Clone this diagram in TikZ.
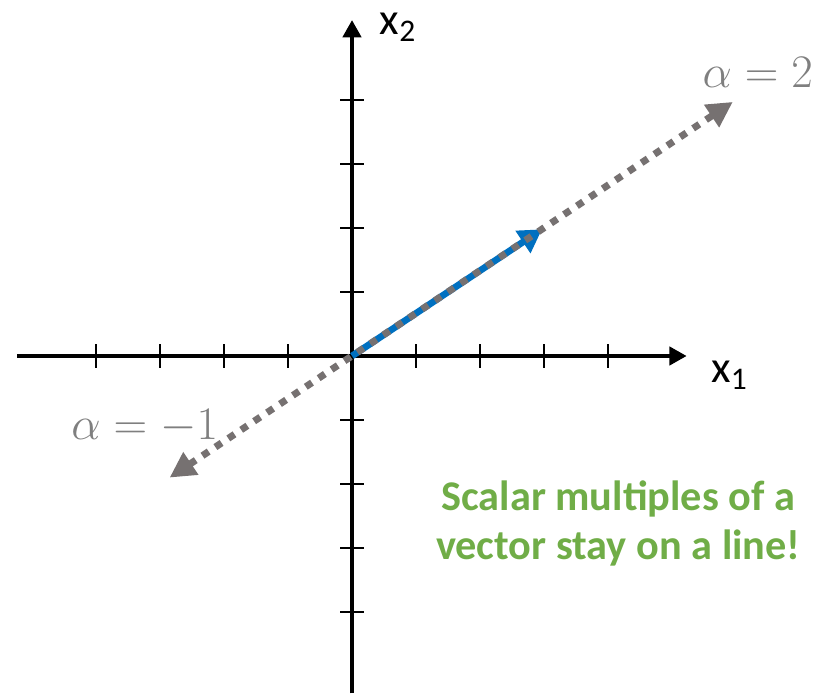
\documentclass[tikz,border=0pt]{standalone}
\usepackage{fontspec}
\newfontfamily\calibri{Carlito}
\usetikzlibrary{arrows.meta}
\definecolor{vecblue}{HTML}{0070C0}
\definecolor{linegray}{HTML}{767171}
\definecolor{labelgray}{HTML}{7F7F7F}
\definecolor{notegreen}{HTML}{70AD47}
\begin{document}
\begin{tikzpicture}[x=1cm, y=1cm,
    axis/.style={line width=2.2pt, -{Triangle[length=0.27cm, width=0.28cm]}},
    tickmark/.style={line width=0.9pt},
    vector/.style={vecblue, line width=3pt, -{Triangle[length=0.36cm, width=0.4cm]}},
    multiple/.style={linegray, line width=3.1pt, dash pattern=on 3.3pt off 3.6pt,
        {Triangle[length=0.4cm, width=0.4cm]}-{Triangle[length=0.4cm, width=0.4cm]}},
    axislabel/.style={font=\calibri\fontsize{20}{24}\selectfont},
    alphalabel/.style={labelgray, font=\fontsize{22}{26}\selectfont},
    note/.style={notegreen, align=center, font=\calibri\bfseries\fontsize{18.8}{22}\selectfont}]
    \useasboundingbox (-5.5,-5.281) rectangle (7.406,5.5625);
    % axes
    \coordinate (O) at (0,0);
    \coordinate (xstart) at (-5.23,0);
    \coordinate (xend) at (5.23,0);
    \coordinate (ystart) at (0,-5.27);
    \coordinate (yend) at (0,5.25);
    \draw[axis] (xstart) -- (xend);
    \draw[axis] (ystart) -- (yend);
    % ticks
    \foreach \i in {-4,...,-1,1,2,3,4} {
        \draw[tickmark] (\i,-0.18) -- (\i,0.18);
        \draw[tickmark] (-0.18,\i) -- (0.18,\i);
    }
    \node[axislabel] (xone) at (5.9,-0.3) {x\textsubscript{1}};
    \node[axislabel] (xtwo) at (0.72,5.13) {x\textsubscript{2}};
    % vector and its multiples
    \coordinate (v) at (2.97,1.98);
    \coordinate (twov) at (5.95,3.97);
    \coordinate (minusv) at (-2.85,-1.9);
    \draw[vector] (O) -- (v);
    \draw[multiple] (minusv) -- (twov);
    \node[alphalabel] (atwo) at (6.34,4.43) {$\alpha=2$};
    \node[alphalabel] (aminus) at (-3.24,-1.1) {$\alpha=-1$};
    \node[note] (msg) at (4.16,-2.62) {Scalar multiples of a\\vector stay on a line!};
\end{tikzpicture}
\end{document}
